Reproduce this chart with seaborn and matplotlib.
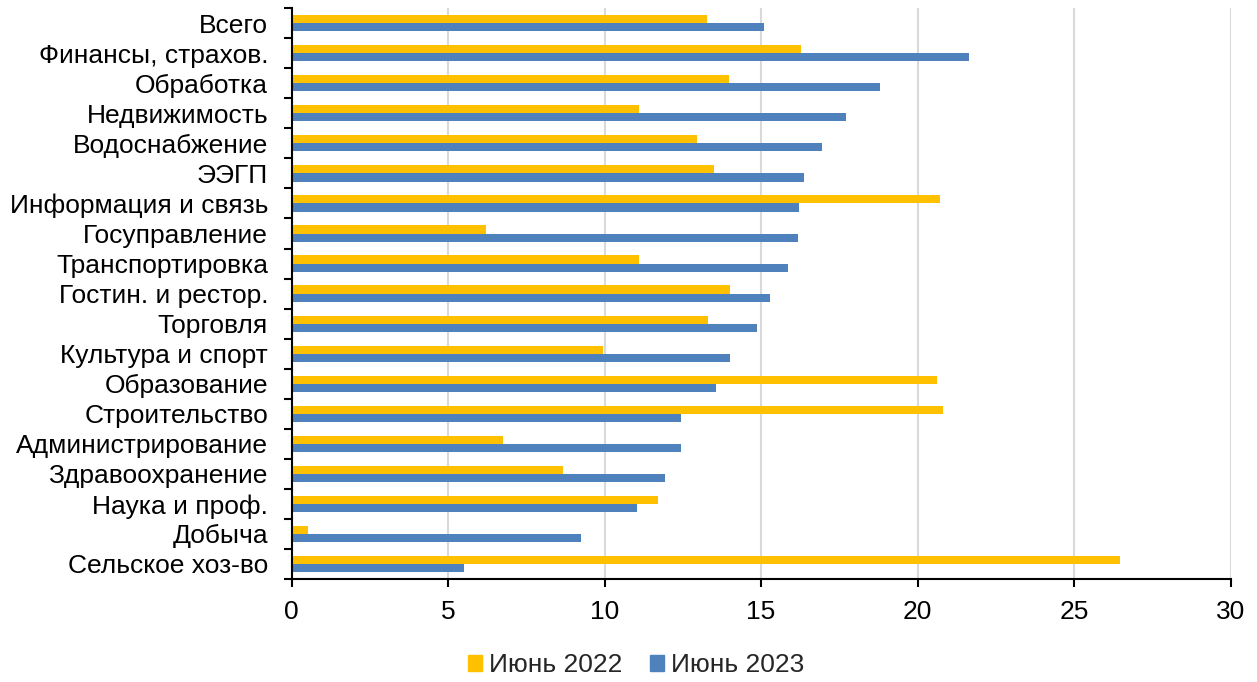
import matplotlib
matplotlib.use("Agg")
import matplotlib.pyplot as plt
import matplotlib.patches as mpatches
import numpy as np
import pandas as pd
import seaborn as sns

# Sector labels (top to bottom)
sectors = [
    "Всего", "Финансы, страхов.", "Обработка", "Недвижимость", "Водоснабжение",
    "ЭЭГП", "Информация и связь", "Госуправление", "Транспортировка",
    "Гостин. и рестор.", "Торговля", "Культура и спорт", "Образование",
    "Строительство", "Администрирование", "Здравоохранение", "Наука и проф.",
    "Добыча", "Сельское хоз-во",
]

june_2022 = [13.27, 16.28, 13.96, 11.10, 12.94, 13.51, 20.73, 6.20, 11.11,
             14.00, 13.30, 9.94, 20.62, 20.81, 6.74, 8.67, 11.69, 0.51, 26.46]
june_2023 = [15.09, 21.63, 18.79, 17.71, 16.95, 16.37, 16.21, 16.17, 15.86,
             15.29, 14.86, 14.00, 13.57, 12.44, 12.44, 11.94, 11.02, 9.25, 5.51]

series_names = ["Июнь 2022", "Июнь 2023"]
x_ticks = [0, 5, 10, 15, 20, 25, 30]

df = pd.DataFrame({
    "sector": sectors * 2,
    "value": june_2022 + june_2023,
    "series": [series_names[0]] * len(sectors) + [series_names[1]] * len(sectors),
})

sns.set_theme(style="white")
plt.rcParams["font.family"] = ["Liberation Sans", "DejaVu Sans"]

colors = {series_names[0]: "#FFC000", series_names[1]: "#4F81BD"}
FS = 19

fig = plt.figure(figsize=(12.57, 6.82), dpi=100)
ax = fig.add_axes([0.232, 0.151, 0.747, 0.837])

sns.barplot(data=df, y="sector", x="value", hue="series", order=sectors,
            hue_order=series_names, palette=colors, orient="h",
            width=0.54, gap=0, linewidth=0, saturation=1, ax=ax, legend=False)

ax.set_xlim(0, 30)
ax.set_ylim(len(sectors) - 0.5, -0.5)
ax.set_xticks(x_ticks)
ax.set_xticklabels([str(t) for t in x_ticks])
ax.set_xlabel("")
ax.set_ylabel("")

ax.xaxis.grid(True, color="#D9D9D9", linewidth=1.5)
ax.yaxis.grid(False)
ax.set_axisbelow(True)

for side in ["top", "right"]:
    ax.spines[side].set_visible(False)
for side in ["left", "bottom"]:
    ax.spines[side].set_color("black")
    ax.spines[side].set_linewidth(1.5)

# category separators as outward ticks on the category axis
ax.set_yticks(np.arange(len(sectors)))
ax.set_yticklabels(sectors)
ax.set_yticks(np.arange(-0.5, len(sectors)), minor=True)
ax.tick_params(axis="y", which="major", length=0, pad=17, labelsize=FS, labelcolor="black")
ax.tick_params(axis="y", which="minor", length=6, width=1.5, color="black", direction="out", left=True)
ax.tick_params(axis="x", which="major", length=6, width=1.5, color="black", direction="out",
               bottom=True, pad=9, labelsize=FS, labelcolor="black")

handles = [mpatches.Patch(color=colors[n], label=n) for n in series_names]
fig.legend(handles=handles, loc="center", bbox_to_anchor=(0.506, 0.025), ncol=2,
           frameon=False, fontsize=FS, handlelength=0.55, handleheight=0.55,
           handletextpad=0.25, columnspacing=1.05)

fig.savefig("out.png", dpi=100, facecolor="white")
